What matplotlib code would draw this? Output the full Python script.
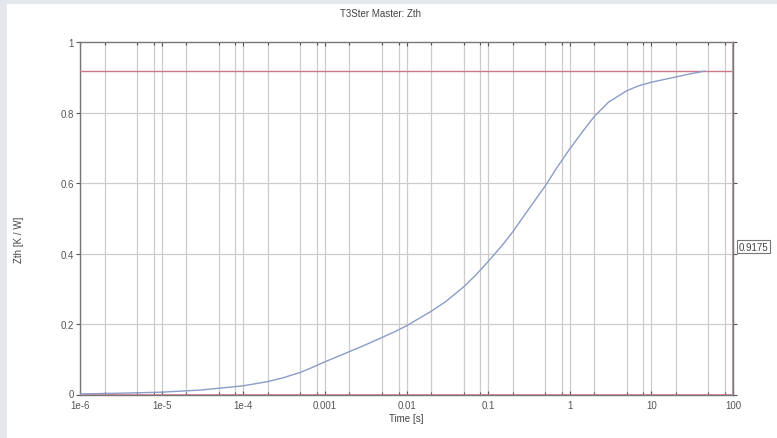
import matplotlib
matplotlib.use("Agg")
import matplotlib.pyplot as plt
import matplotlib.patches as mpatches
import matplotlib.transforms as mtransforms

# Data
time_s = [1e-6, 3e-6, 1e-5, 3e-5, 1e-4, 2e-4, 3e-4, 5e-4, 7e-4, 1e-3, 2e-3, 3e-3,
          5e-3, 7e-3, 1e-2, 2e-2, 3e-2, 5e-2, 7e-2, 0.1, 0.15, 0.2, 0.3, 0.5, 0.7,
          1.0, 1.5, 2.0, 3.0, 5.0, 7.0, 10.0, 20.0, 30.0, 45.0]
zth = [0.003, 0.005, 0.008, 0.014, 0.026, 0.038, 0.048, 0.064, 0.078, 0.094, 0.123, 0.140,
       0.163, 0.178, 0.196, 0.237, 0.264, 0.306, 0.339, 0.378, 0.425, 0.462, 0.520, 0.592, 0.645,
       0.697, 0.752, 0.789, 0.830, 0.862, 0.876, 0.886, 0.901, 0.910, 0.9175]
cursor_value = 0.9175
cursor_time = 100.0
x_tick_vals = [1e-6, 1e-5, 1e-4, 1e-3, 1e-2, 1e-1, 1, 10, 100]
x_tick_labels = ["1e-6", "1e-5", "1e-4", "0.001", "0.01", "0.1", "1", "10", "100"]
y_tick_vals = [0, 0.2, 0.4, 0.6, 0.8, 1]
y_tick_labels = ["0", "0.2", "0.4", "0.6", "0.8", "1"]

plt.rcParams['font.family'] = ['Liberation Sans', 'DejaVu Sans']

fig = plt.figure(figsize=(7.77, 4.39), dpi=100)
fig.patch.set_facecolor("white")
fig.patches.append(mpatches.Rectangle((0, 0), 7/777, 1, transform=fig.transFigure,
                                      facecolor="#e4e8ec", edgecolor="none", zorder=0))
fig.patches.append(mpatches.Rectangle((0, 1 - 5/439), 1, 5/439, transform=fig.transFigure,
                                      facecolor="#e4e8ec", edgecolor="none", zorder=0))

ax = fig.add_axes([80/777, 1 - 396/439, (733 - 80)/777, (396 - 43)/439])
ax.set_xscale("log")
ax.set_xlim(1e-6, 100)
ax.set_ylim(0, 1)

minor = []
for d in range(-6, 2):
    for m in (2, 5, 8):
        minor.append(m * 10.0 ** d)
for v in minor + x_tick_vals:
    ax.axvline(v, color="#cccccc", lw=0.9, zorder=1)
for v in y_tick_vals[1:-1]:
    ax.axhline(v, color="#cccccc", lw=0.9, zorder=1)

ax.set_xticks(x_tick_vals)
ax.set_xticklabels(x_tick_labels)
ax.set_xticks(minor, minor=True)
ax.set_xticklabels([], minor=True)
ax.set_yticks(y_tick_vals)
ax.set_yticklabels(y_tick_labels)
ax.tick_params(axis="both", which="both", labelsize=7, colors="#555555",
               length=3, width=0.8)
ax.tick_params(axis="x", which="both", top=True, direction="in", pad=3.5)
ax.tick_params(axis="x", which="minor", length=2)
ax.tick_params(axis="y", which="both", direction="out", pad=1.5)
ax.tick_params(axis="y", which="both", right=True)

lbl0 = ax.get_yticklabels()[0]
lbl0.set_transform(lbl0.get_transform() + mtransforms.ScaledTranslation(0, 2/100, fig.dpi_scale_trans))

for s in ax.spines.values():
    s.set_color("#777777")
    s.set_linewidth(1.0)

ax.axhline(cursor_value, color="#c97a86", lw=1.0, zorder=3)
ax.axhline(0, color="#c97a86", lw=1.2, zorder=3)
ax.axvline(cursor_time, color="#b89aa2", lw=2.2, zorder=3)

ax.plot(time_s, zth, color="#8c9cc8", lw=1.0, zorder=4)

ax.annotate(f"{cursor_value:.4f}", xy=(1.0, 0.42), xycoords="axes fraction",
            xytext=(4, 0), textcoords="offset points", ha="left", va="center",
            fontsize=7, color="#444444",
            bbox=dict(boxstyle="square,pad=0.15", fc="white", ec="#777777", lw=0.8),
            annotation_clip=False)

fig.text(380/777, 1 - 14/439, "T3Ster Master: Zth", ha="center", va="center",
         fontsize=7, color="#444444")
ax.set_xlabel("Time [s]", fontsize=7, color="#444444", labelpad=2)
fig.text(19/777, 1 - 240/439, "Zth [K / W]", rotation=90, ha="center", va="center",
         fontsize=7, color="#444444")

fig.savefig("out.png", dpi=100, facecolor=fig.get_facecolor())
